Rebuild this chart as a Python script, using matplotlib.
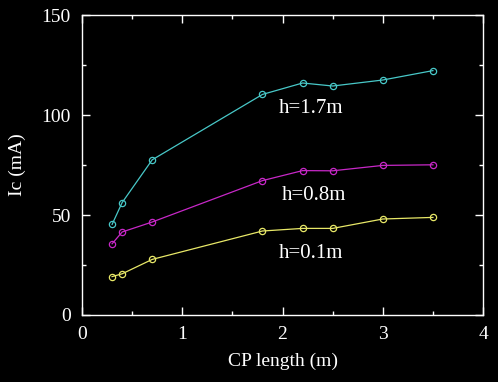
import matplotlib
matplotlib.use("Agg")
import matplotlib.pyplot as plt
from matplotlib.ticker import MultipleLocator

# CP length (m) and critical current Ic (mA) for three heights
cp_length = [0.3, 0.4, 0.7, 1.8, 2.2, 2.5, 3.0, 3.5]
ic_h17 = [45.3, 56.2, 77.6, 110.3, 116.0, 114.5, 117.5, 122.2]
ic_h08 = [35.6, 41.5, 46.5, 67.2, 72.2, 72.1, 74.8, 75.1]
ic_h01 = [19.2, 20.6, 27.8, 42.0, 43.3, 43.3, 48.0, 48.8]
labels = ["h=1.7m", "h=0.8m", "h=0.1m"]
colors = ["#48c8c8", "#c828c8", "#e8e868"]

plt.rcParams.update({"font.family": ["Liberation Serif", "DejaVu Serif"], "font.size": 14})

fig = plt.figure(figsize=(4.98, 3.82), dpi=100, facecolor="black")
ax = fig.add_axes([0.1647, 0.1754, 0.8053, 0.7853], facecolor="black")

for ys, c in zip([ic_h17, ic_h08, ic_h01], colors):
    ax.plot(cp_length, ys, color=c, linewidth=0.9, marker="o", markersize=4.5,
            markerfacecolor="none", markeredgecolor=c, markeredgewidth=0.9)

ax.text(2.28, 103.5, labels[0], color="white", ha="center", va="center", fontsize=15)
ax.text(2.31, 60, labels[1], color="white", ha="center", va="center", fontsize=15)
ax.text(2.28, 31, labels[2], color="white", ha="center", va="center", fontsize=15)

ax.set_xlim(0, 4)
ax.set_ylim(0, 150)
ax.xaxis.set_major_locator(MultipleLocator(1))
ax.xaxis.set_minor_locator(MultipleLocator(0.5))
ax.yaxis.set_major_locator(MultipleLocator(50))
ax.yaxis.set_minor_locator(MultipleLocator(25))
ax.tick_params(which="both", direction="in", top=True, right=True, colors="white",
               labelsize=14, width=1)
ax.tick_params(which="major", length=6, pad=8)
ax.tick_params(which="minor", length=3)
for s in ax.spines.values():
    s.set_color("white")
    s.set_linewidth(1)

ax.set_xlabel("CP length (m)", color="white", fontsize=14, labelpad=7)
ax.set_ylabel("Ic (mA)", color="white", fontsize=14, labelpad=11)

fig.savefig("out.png", dpi=100, facecolor="black")
